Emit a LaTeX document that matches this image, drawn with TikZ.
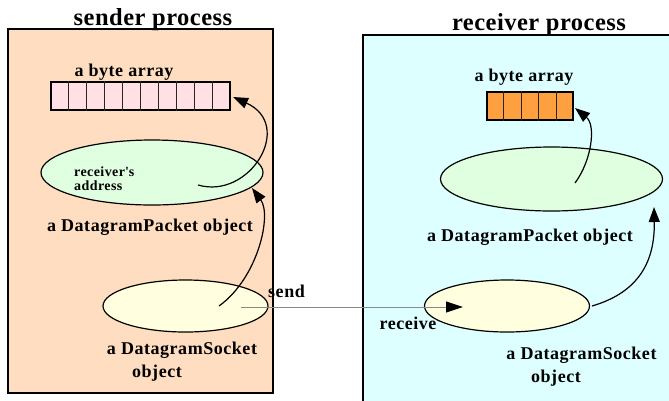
\documentclass[tikz,border=0pt]{standalone}
\usepackage{fontspec}
\setmainfont{Liberation Serif}
\newfontfamily\spacedserif[LetterSpace=3]{Liberation Serif}
\newfontfamily\titleserif[LetterSpace=2]{Liberation Serif}
\usetikzlibrary{shapes.geometric,arrows.meta,calc}

\definecolor{peach}{HTML}{FFDDC0}
\definecolor{icecyan}{HTML}{DDFFFF}
\definecolor{mint}{HTML}{E0FFE0}
\definecolor{cream}{HTML}{FFFFE0}
\definecolor{blush}{HTML}{FFE0E4}
\definecolor{tangerine}{HTML}{FFA040}
\definecolor{wire}{HTML}{8A8A8A}

\tikzset{
  procbox/.style={draw=black, line width=2pt},
  objoval/.style={ellipse, draw=black, line width=1.2pt, inner sep=0pt},
  title/.style={font=\titleserif\bfseries\fontsize{24.5}{26}\selectfont, inner sep=0pt, anchor=base},
  lbl/.style={font=\spacedserif\bfseries\fontsize{18}{20}\selectfont, inner sep=0pt, anchor=base},
  smalllbl/.style={font=\spacedserif\bfseries\fontsize{14}{16}\selectfont, inner sep=0pt, anchor=base west},
  bytes/.style={draw=black, line width=1.8pt, inner sep=0pt, minimum height=28pt},
  cellrule/.style={draw=black!85, line width=1.2pt},
  flow/.style={line width=1.2pt, -{Triangle[length=15pt,width=11pt]}},
  wirearrow/.style={draw=wire, line width=1pt, -{Triangle[length=17pt,width=11pt,color=black]}}
}

\begin{document}
\begin{tikzpicture}[x=1pt, y=-1pt]
  \useasboundingbox (0,0) rectangle (669,400);
  \clip (0,0) rectangle (669,400);

  % process boxes
  \draw[procbox, fill=peach] (8,29) rectangle (273,393);
  \draw[procbox, fill=icecyan] (363,35) rectangle (690,420);

  \node[title] (stitle) at (153,25) {sender process};
  \node[title] (rtitle) at (539,30) {receiver process};

  % sender side
  \node[lbl] (sbytelbl) at (124,76) {a byte array};
  \node[bytes, fill=blush, minimum width=179pt] (sbytes) at (140.5,96) {};
  \foreach \i in {1,...,9}
    \draw[cellrule] ($(sbytes.north west)!\i/10!(sbytes.north east)$) -- ($(sbytes.south west)!\i/10!(sbytes.south east)$);

  \node[objoval, fill=mint, minimum width=222pt, minimum height=65pt] (spacket) at (152,172.5) {};
  \node[smalllbl] (saddr1) at (74,176) {receiver\textquotesingle s};
  \node[smalllbl] (saddr2) at (74,190) {address};
  \node[lbl] (spacketlbl) at (150,231) {a DatagramPacket object};

  \node[objoval, fill=cream, minimum width=165pt, minimum height=52pt] (ssock) at (185.5,306) {};
  \node[lbl] (ssocklbl1) at (182,354) {a DatagramSocket};
  \node[lbl] (ssocklbl2) at (157,377) {object};

  % receiver side
  \node[lbl] (rbytelbl) at (524,81) {a byte array};
  \node[bytes, fill=tangerine, minimum width=86pt] (rbytes) at (530,106) {};
  \foreach \i in {1,...,4}
    \draw[cellrule] ($(rbytes.north west)!\i/5!(rbytes.north east)$) -- ($(rbytes.south west)!\i/5!(rbytes.south east)$);

  \node[objoval, fill=mint, minimum width=222pt, minimum height=64pt] (rpacket) at (551.5,179) {};
  \node[lbl] (rpacketlbl) at (530,241) {a DatagramPacket object};

  \node[objoval, fill=cream, minimum width=165pt, minimum height=52pt] (rsock) at (507,306) {};
  \node[lbl] (rsocklbl1) at (581.5,359) {a DatagramSocket};
  \node[lbl] (rsocklbl2) at (556,382) {object};

  % connector labels
  \node[lbl, anchor=base west] (sendlbl) at (268,297) {send};
  \node[lbl] (recvlbl) at (408,329) {receive};

  % anchor points for the curved connectors
  \coordinate (saddrpt) at (198,185);
  \coordinate (ssockpt) at (219,306);
  \coordinate (spackin) at (252,188);
  \coordinate (sbytein) at (233,97);
  \coordinate (rpackpt) at (575,183);
  \coordinate (rbytein) at (575,108);
  \coordinate (rsockpt) at (592,306);
  \coordinate (rpackin) at (654,207);
  \coordinate (wirestart) at (241,307);
  \coordinate (wireend) at (463,307);

  % sender: socket -> packet -> byte array
  \draw[flow] (ssockpt) .. controls (258,278) and (272,215) .. (spackin);
  \draw[flow] (saddrpt) .. controls (250,200) and (295,125) .. (sbytein);

  % network transfer
  \draw[wirearrow] (wirestart) -- (wireend);

  % receiver: socket -> packet -> byte array
  \draw[flow] (rsockpt) .. controls (640,292) and (655,260) .. (rpackin);
  \draw[flow] (rpackpt) .. controls (592,160) and (596,125) .. (rbytein);
\end{tikzpicture}
\end{document}
